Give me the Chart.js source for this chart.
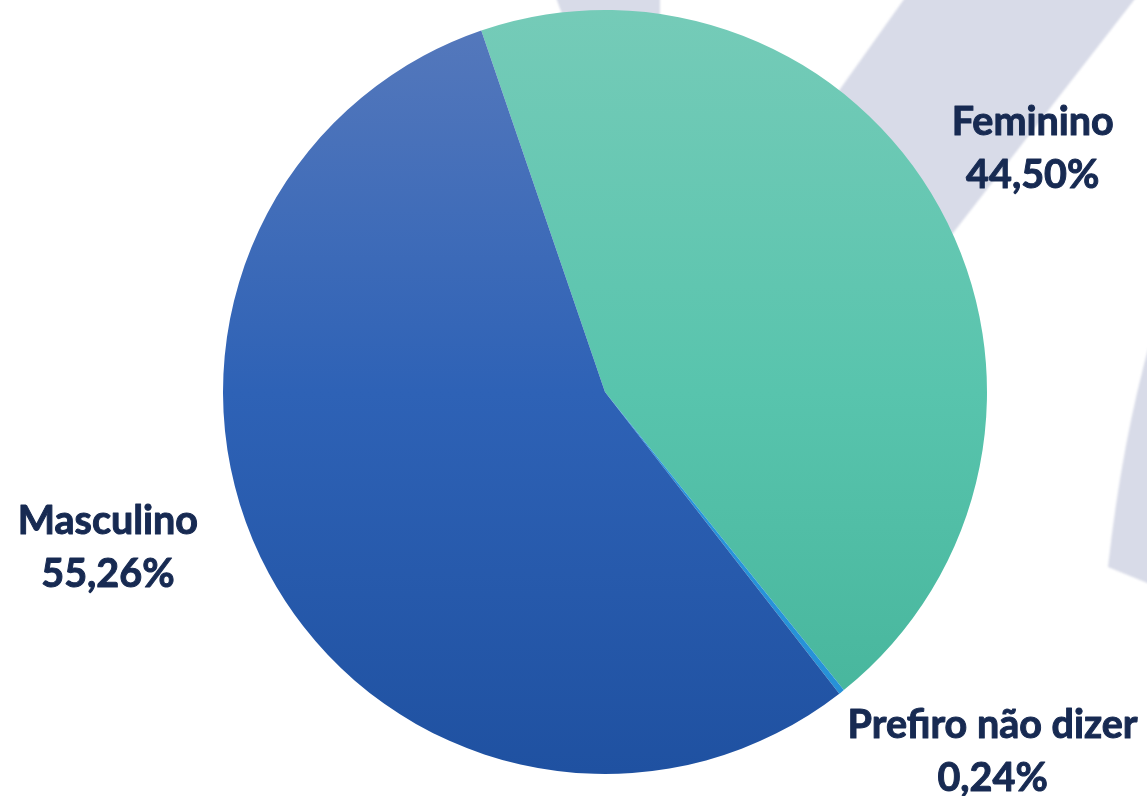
<!DOCTYPE html>
<html lang="pt">
<head>
    <meta charset="UTF-8">
    <title>Gênero</title>
    <script src="https://cdn.jsdelivr.net/npm/chart.js"></script>
    <style>
        html, body {
            margin: 0;
            padding: 0;
            background: #ffffff;
        }
        .chart-box {
            width: 1147px;
            height: 796px;
        }
    </style>
</head>
<body>

<div class="chart-box">
    <canvas id="genderChart"></canvas>
</div>

<script>
    // data
    const categories = ['Feminino', 'Prefiro não dizer', 'Masculino'];
    const percents = [44.50, 0.24, 55.26];

    // gradient stops per slice (top, middle, bottom)
    const sliceTop = ['#75cbb8', '#2b9be0', '#5679bc'];
    const sliceMid = ['#58c4ad', '#2996dc', '#2e62b6'];
    const sliceBottom = ['#44b399', '#2690d6', '#1f51a1'];

    // where each label sits relative to the middle of its slice edge
    const labelShift = [[93, -62], [151, 57], [-161, -29]];

    function fmt(v) {
        return v.toFixed(2).replace('.', ',') + '%';
    }

    // light watermark shapes behind the pie
    const watermark = {
        id: 'watermark',
        beforeDraw(chart) {
            const ctx = chart.ctx;
            ctx.save();
            ctx.fillStyle = '#d8dbe8';
            ctx.filter = 'blur(1.2px)';
            ctx.beginPath();
            ctx.moveTo(907, -5);
            ctx.lineTo(1138, -5);
            ctx.lineTo(800, 430);
            ctx.lineTo(690, 300);
            ctx.closePath();
            ctx.fill();
            ctx.beginPath();
            ctx.moveTo(555, -5);
            ctx.lineTo(660, -5);
            ctx.lineTo(660, 22);
            ctx.lineTo(565, 22);
            ctx.closePath();
            ctx.fill();
            ctx.beginPath();
            ctx.moveTo(1152, 335);
            ctx.quadraticCurveTo(1122, 440, 1108, 567);
            ctx.lineTo(1152, 585);
            ctx.closePath();
            ctx.fill();
            ctx.restore();
        }
    };

    const sliceLabels = {
        id: 'sliceLabels',
        afterDatasetsDraw(chart) {
            const ctx = chart.ctx;
            const arcs = chart.getDatasetMeta(0).data;
            ctx.save();
            ctx.fillStyle = '#172a52';
            ctx.strokeStyle = '#172a52';
            ctx.lineWidth = 1;
            ctx.lineJoin = 'round';
            ctx.font = 'bold 39.5px Lato, "Open Sans", sans-serif';
            ctx.textAlign = 'center';
            ctx.textBaseline = 'alphabetic';
            arcs.forEach((arc, i) => {
                const p = arc.getProps(['x', 'y', 'startAngle', 'endAngle', 'outerRadius'], true);
                const mid = (p.startAngle + p.endAngle) / 2;
                const cx = p.x + Math.cos(mid) * p.outerRadius + labelShift[i][0];
                const cy = p.y + Math.sin(mid) * p.outerRadius + labelShift[i][1];
                const lines = [categories[i], fmt(percents[i])];
                lines.forEach((t, k) => {
                    const y = cy - 11 + k * 53;
                    ctx.fillText(t, cx, y);
                    ctx.strokeText(t, cx, y);
                });
            });
            ctx.restore();
        }
    };

    function sliceFill(context) {
        const chart = context.chart;
        const area = chart.chartArea;
        const i = context.dataIndex;
        if (!area) return sliceMid[i];
        const g = chart.ctx.createLinearGradient(0, area.top, 0, area.bottom);
        g.addColorStop(0, sliceTop[i]);
        g.addColorStop(0.5, sliceMid[i]);
        g.addColorStop(1, sliceBottom[i]);
        return g;
    }

    const ctx = document.getElementById('genderChart').getContext('2d');
    new Chart(ctx, {
        type: 'pie',
        data: {
            labels: categories,
            datasets: [{
                data: percents,
                backgroundColor: sliceFill,
                borderWidth: 0
            }]
        },
        options: {
            responsive: true,
            maintainAspectRatio: false,
            animation: false,
            rotation: -18.9,
            layout: {
                padding: { left: 63, right: 0, top: 10, bottom: 22 }
            },
            plugins: {
                legend: { display: false },
                tooltip: { enabled: false }
            }
        },
        plugins: [watermark, sliceLabels]
    });
</script>

</body>
</html>
